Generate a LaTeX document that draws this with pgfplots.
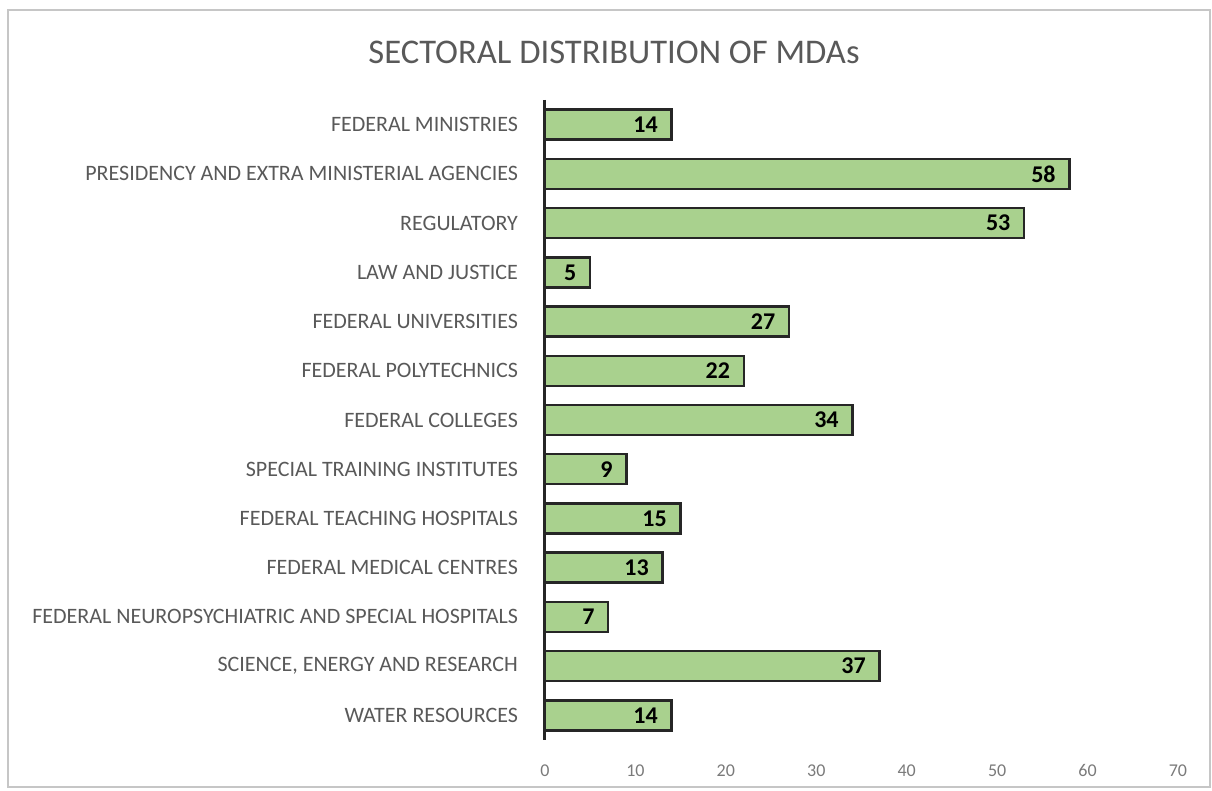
\documentclass[border=0pt]{standalone}
\usepackage{fontspec}
\setmainfont{Carlito}
\usepackage{pgfplots}
\pgfplotsset{compat=1.18}
\definecolor{barfill}{HTML}{A9D18E}
\definecolor{txtgray}{HTML}{595959}
\begin{document}
\begin{tikzpicture}
\useasboundingbox (0pt,0pt) rectangle (606pt,395.5pt);
\draw[gray!45, line width=0.8pt] (4pt,2pt) rectangle (605pt,390.5pt);
\node[text=txtgray, font=\fontsize{17.3}{20}\selectfont] at (307pt,369.5pt) {SECTORAL DISTRIBUTION OF MDAs};
\begin{axis}[
  at={(272.5pt,25.5pt)}, anchor=south west,
  scale only axis, width=316.5pt, height=320pt,
  xbar, bar width=15pt,
  xmin=0, xmax=70, xtick={0,10,...,70},
  ymin=-0.5, ymax=12.5, y dir=reverse,
  ytick={0,...,12},
  yticklabels={FEDERAL MINISTRIES, PRESIDENCY AND EXTRA MINISTERIAL AGENCIES, REGULATORY, LAW AND JUSTICE, FEDERAL UNIVERSITIES, FEDERAL POLYTECHNICS, FEDERAL COLLEGES, SPECIAL TRAINING INSTITUTES, FEDERAL TEACHING HOSPITALS, FEDERAL MEDICAL CENTRES, FEDERAL NEUROPSYCHIATRIC AND SPECIAL HOSPITALS, {SCIENCE, ENERGY AND RESEARCH}, WATER RESOURCES},
  axis y line*=left, axis x line*=bottom,
  x axis line style={draw=none},
  y axis line style={line width=1.5pt, black!85, -},
  major tick length=0pt,
  /pgf/number format/assume math mode=true,
  yticklabel style={text=txtgray, font=\fontsize{11}{13}\selectfont, xshift=-10pt},
  xticklabel style={text=txtgray!80, font=\fontsize{9}{11}\selectfont, yshift=-8pt, text height=6.5pt, text depth=0pt},
  nodes near coords,
  nodes near coords style={anchor=east, font=\bfseries\fontsize{12}{14}\selectfont, text=black, xshift=-3pt},
  clip=false,
]
\addplot[fill=barfill, draw=black!85, line width=1.2pt] coordinates {
(14,0) (58,1) (53,2) (5,3) (27,4) (22,5) (34,6) (9,7) (15,8) (13,9) (7,10) (37,11) (14,12)
};
\end{axis}
\end{tikzpicture}
\end{document}
